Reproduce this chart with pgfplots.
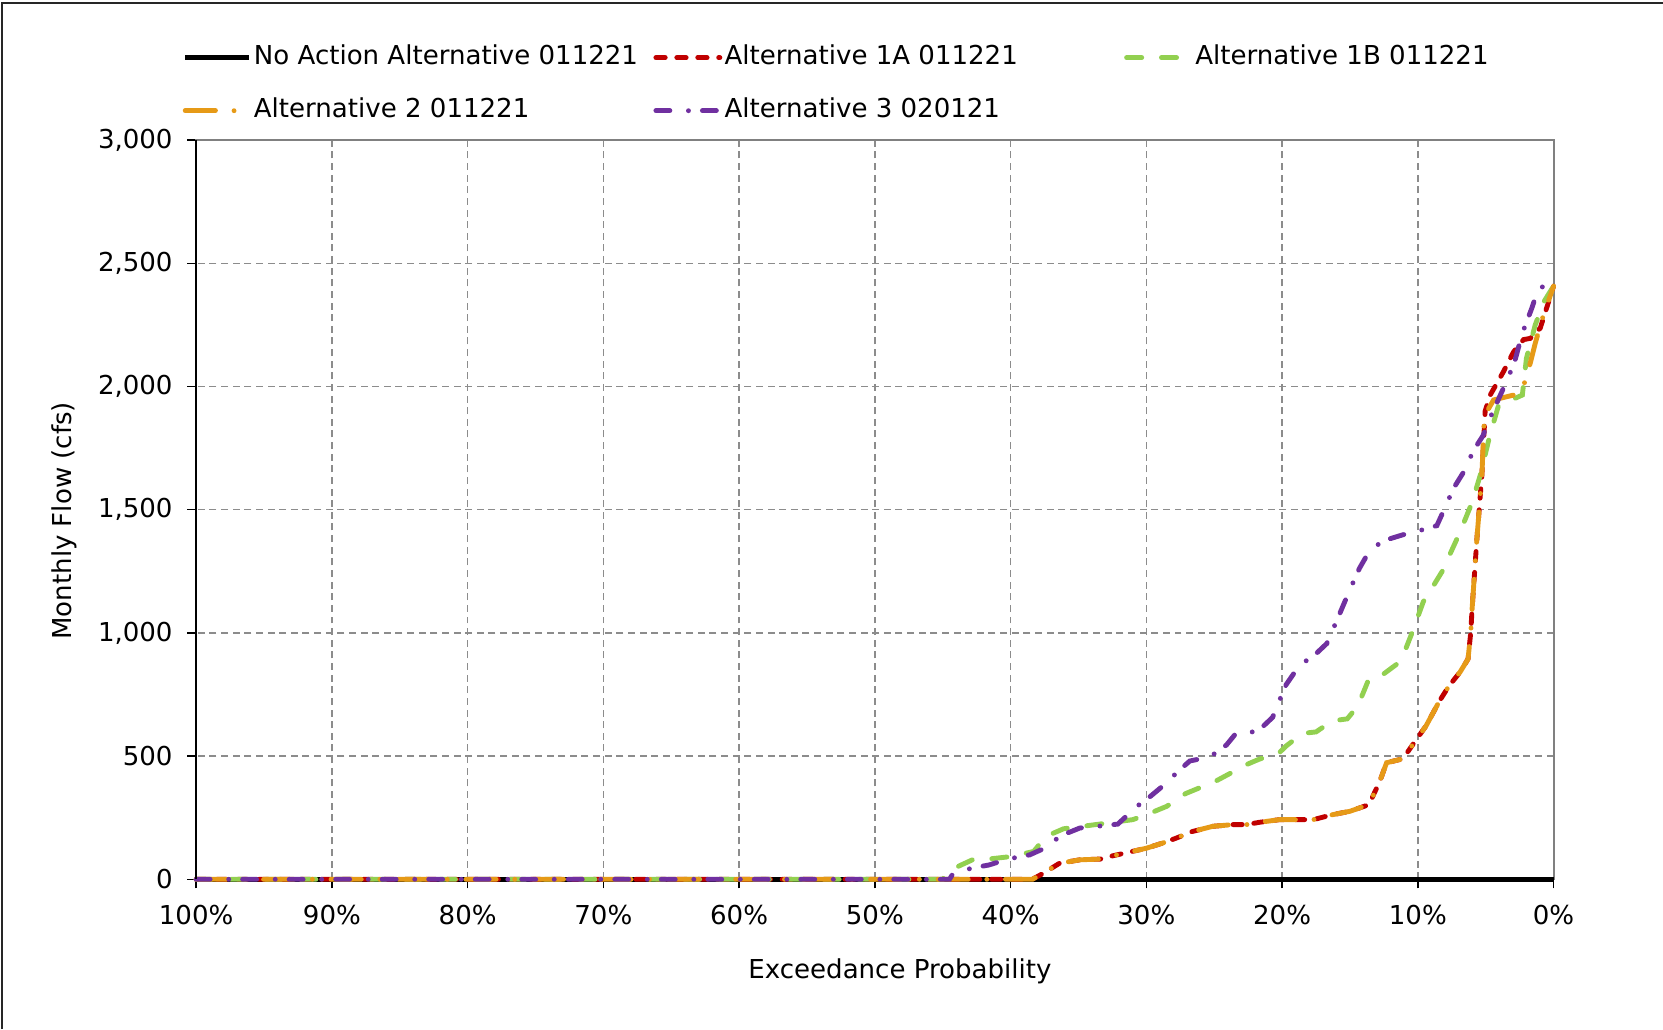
\documentclass[border=0pt]{standalone}
\usepackage{fontspec}
\setmainfont{DejaVu Sans}
\usepackage{pgfplots}
\pgfplotsset{compat=1.18}
\definecolor{cRed}{HTML}{C00000}
\definecolor{cGreen}{HTML}{92D050}
\definecolor{cOrange}{HTML}{E69A17}
\definecolor{cPurple}{HTML}{7030A0}
\begin{document}
\fontsize{11.2}{13.5}\selectfont
\begin{tikzpicture}
\useasboundingbox (0pt,0pt) rectangle (715.1pt,442.5pt);
\draw[line width=0.8pt, black!85] (0.9pt,0pt) -- (0.9pt,441.2pt) -- (715.1pt,441.2pt);
\begin{axis}[
  at={(376.2pt,223.35pt)}, anchor=center, scale only axis,
  width=583.7pt, height=317.9pt,
  xmin=0, xmax=100, x dir=reverse, ymin=0, ymax=3000,
  xtick={0,10,...,100}, ytick={0,500,...,3000},
  xticklabel={\pgfmathprintnumber{\tick}\%},
  /pgf/number format/assume math mode=true,
  /pgf/number format/1000 sep={,},
  scaled y ticks=false,
  grid=major,
  major grid style={gray!90, line width=0.6pt, dash pattern=on 3pt off 2pt},
  tick align=outside, major tick length=3.9pt,
  tick style={black, line width=0.6pt},
  tick pos=left,
  xticklabel style={yshift=-3.2pt},
  yticklabel style={xshift=-2.3pt},
  axis line style={gray, line width=0.8pt},
  clip=false,
  xlabel={Exceedance Probability},
  xlabel style={at={(axis description cs:0.5185,-0.1244)}, anchor=center},
  ylabel={Monthly Flow (cfs)},
  ylabel style={at={(axis description cs:-0.0974,0.485)}, anchor=center},
  legend columns=3,
  legend cell align=left,
  legend style={at={(axis description cs:-0.0102,1.1277)}, anchor=north west,
    draw=none, fill=none, inner sep=0pt, column sep=0pt, row sep=12.8pt,
    nodes={inner sep=0pt, text height=8pt, text depth=2pt}},
  legend image code/.code={\draw[#1] (0pt,0pt) -- (27.5pt,0pt);},
]
\addplot[black, line width=2.1pt] coordinates {(100,0) (0,0)};
\addlegendentry{\makebox[172.8pt][l]{\hspace{1pt}No Action Alternative 011221}}

\addplot[cRed, line width=2.1pt, line cap=round, dash pattern=on 4pt off 5pt] coordinates {
(100,0) (38.4,0) (37.6,24) (36.4,65) (34.9,79) (33.4,82) (32.5,95) (30,126) (28.8,147) (27.8,167) (26.6,194) (25.1,215) (23.6,222) (22.6,222) (21.7,231) (20.2,242) (17.7,242) (16.3,262) (15,276) (13.6,303) (12.8,398) (12.3,473) (11.1,489) (10.1,568) (9.4,622) (8.4,724) (7.7,785) (6.9,840) (6.3,894) (6.1,1003) (6.0,1100) (5.65,1380) (5.4,1557) (5.28,1640) (5.04,1900) (4.67,1965) (3.69,2060) (2.95,2140) (2.21,2190) (1.72,2195) (0.98,2237) (0,2407)};
\addlegendentry{\makebox[172.8pt][l]{\hspace{1pt}Alternative 1A 011221}}

\addplot[cGreen, line width=2.1pt, line cap=round, dash pattern=on 6.5pt off 8.5pt] coordinates {
(100,0) (45,0) (44.8,18) (43.8,54) (42.7,82) (41.5,83) (40,92) (38.3,113) (37.4,174) (36.1,205) (34.7,215) (32.9,228) (31,242) (30,262) (28.5,296) (27.1,348) (24.9,398) (22.6,466) (21.7,487) (20.2,514) (19.7,541) (18.5,592) (17.5,598) (16.3,643) (15.2,651) (14.5,698) (14.05,753) (13.6,814) (12.6,830) (11.5,875) (11,920) (10.4,1004) (9.6,1126) (8.9,1187) (8.2,1250) (6.9,1408) (6,1530) (5.4,1640) (4.7,1800) (4.05,1924) (3.4,1938) (2.3,1965) (2.0,2114) (1.35,2250) (0.7,2345) (0,2407)};
\addlegendentry{\makebox[172.8pt][l]{\hspace{1pt}Alternative 1B 011221}}

\addplot[cOrange, line width=2.1pt, line cap=round, dash pattern=on 13pt off 8pt on 0pt off 8pt] coordinates {
(100,0) (38.4,0) (37.6,24) (36.4,65) (34.9,79) (33.4,82) (32.5,95) (30,126) (28.8,147) (27.8,167) (26.6,194) (25.1,215) (23.6,222) (22.6,222) (21.7,231) (20.2,242) (17.7,242) (16.3,262) (15,276) (13.6,303) (12.8,398) (12.3,473) (11.1,489) (10.1,568) (9.4,622) (8.4,724) (7.7,785) (6.9,840) (6.3,894) (6.1,1003) (6.0,1100) (5.65,1380) (5.4,1557) (5.28,1640) (5.1,1880) (4.42,1945) (2.95,1965) (2.33,1980) (1.72,2094) (1.35,2175) (0.86,2270) (0,2407)};
\addlegendentry{\makebox[172.8pt][l]{\hspace{1pt}Alternative 2 011221}}

\addplot[cPurple, line width=2.1pt, line cap=round, dash pattern=on 6pt off 8pt on 0pt off 6pt] coordinates {
(100,0) (44.5,0) (44.3,18) (42.9,45) (41.6,58) (40.2,82) (38.6,99) (37.5,126) (36.3,177) (34.9,208) (33.6,215) (32.1,224) (30.7,296) (30,323) (28.8,378) (27.5,446) (26.8,480) (25.3,497) (24.1,545) (23.4,592) (21.8,600) (20.7,657) (20.3,712) (19.7,790) (18.7,870) (17.7,905) (16.7,957) (15.8,1072) (15.0,1176) (14.3,1262) (13.8,1310) (12.7,1371) (11.1,1398) (10,1413) (8.6,1435) (7.9,1520) (7.4,1584) (6.6,1655) (5.9,1740) (5.2,1800) (4.7,1870) (3.7,1992) (2.9,2094) (2.3,2216) (1.6,2318) (1.1,2400) (0,2415)};
\addlegendentry{\makebox[172.8pt][l]{\hspace{1pt}Alternative 3 020121}}

\draw[black, line width=0.8pt] (axis description cs:0,0) -- (axis description cs:0,1);
\end{axis}
\end{tikzpicture}
\end{document}
